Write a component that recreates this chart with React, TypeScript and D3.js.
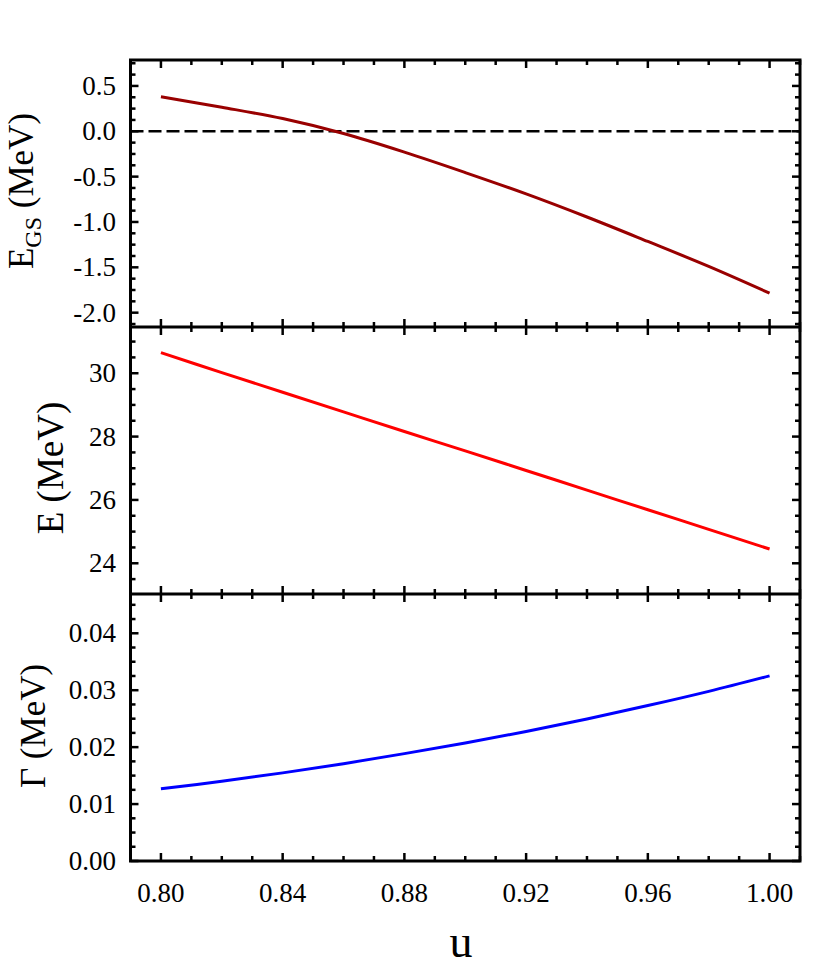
import * as d3 from 'd3';

// u grid shared by all three curves
const uValues = [0.80, 0.82, 0.84, 0.86, 0.88, 0.90, 0.92, 0.94, 0.96, 0.98, 1.00];
// ground-state energy E_GS (MeV)
const egsValues = [0.38, 0.265, 0.14, -0.025, -0.23, -0.455, -0.69, -0.945, -1.215, -1.49, -1.785];
// resonance energy E (MeV)
const eValues = [30.65, 30.02, 29.40, 28.78, 28.16, 27.55, 26.93, 26.31, 25.69, 25.07, 24.45];
// width Gamma (MeV)
const gammaValues = [0.01268, 0.0140, 0.01548, 0.0171, 0.01886, 0.02073, 0.02275, 0.02495, 0.0273, 0.0298, 0.03252];

const xTickLabels = ['0.80', '0.84', '0.88', '0.92', '0.96', '1.00'];
const egsTickLabels = ['0.5', '0.0', '-0.5', '-1.0', '-1.5', '-2.0'];
const eTickLabels = ['30', '28', '26', '24'];
const gammaTickLabels = ['0.04', '0.03', '0.02', '0.01', '0.00'];

const W = 830;
const H = 968;
const left = 130.5;
const right = 800;
const tops = [60, 327, 594];
const panelH = 267;
const font = '"Liberation Serif", "Times New Roman", serif';

const x = d3.scaleLinear().domain([0.79, 1.01]).range([left, right]);
const xMinor = d3.range(0.79, 1.0101, 0.01).map(v => +v.toFixed(2));

type Panel = {
  values: number[];
  domain: [number, number];
  labels: string[];
  minorStep: number;
  color: string;
};

const panels: Panel[] = [
  { values: egsValues, domain: [-2.158, 0.786], labels: egsTickLabels, minorStep: 0.125, color: '#990000' },
  { values: eValues, domain: [23.03, 31.46], labels: eTickLabels, minorStep: 0.5, color: '#ff0000' },
  { values: gammaValues, domain: [0, 0.0469], labels: gammaTickLabels, minorStep: 0.0025, color: '#0000ff' },
];

function PanelView({ p, top, last }: { p: Panel; top: number; last: boolean }) {
  const y = d3.scaleLinear().domain(p.domain).range([top + panelH, top]);
  const bottom = top + panelH;
  const minors: number[] = [];
  const start = Math.ceil(p.domain[0] / p.minorStep - 1e-6);
  const end = Math.floor(p.domain[1] / p.minorStep + 1e-6);
  for (let i = start; i <= end; i++) minors.push(i * p.minorStep);
  const line = d3.line<number>()
    .x((_, i) => x(uValues[i]))
    .y(d => y(d))
    .curve(d3.curveCatmullRom);
  return (
    <g>
      {minors.map((v, i) => {
        const major = p.labels.some(l => Math.abs(+l - v) < p.minorStep / 10);
        const len = major ? 8 : 5;
        return (
          <g key={i}>
            <line x1={left} x2={left + len} y1={y(v)} y2={y(v)} stroke="#000" strokeWidth={2.5} />
            <line x1={right} x2={right - len} y1={y(v)} y2={y(v)} stroke="#000" strokeWidth={2.5} />
          </g>
        );
      })}
      {xMinor.map((v, i) => {
        const major = xTickLabels.some(l => Math.abs(+l - v) < 0.001);
        const len = major ? 8 : 5;
        return (
          <g key={'x' + i}>
            <line x1={x(v)} x2={x(v)} y1={top} y2={top + len} stroke="#000" strokeWidth={2.5} />
            <line x1={x(v)} x2={x(v)} y1={bottom} y2={bottom - len} stroke="#000" strokeWidth={2.5} />
          </g>
        );
      })}
      {p.labels.map(l => (
        <text key={l} x={116} y={y(+l)} textAnchor="end" dominantBaseline="central"
          fontFamily={font} fontSize={27}>{l}</text>
      ))}
      {p === panels[0] && (
        <line x1={left} x2={right} y1={y(0)} y2={y(0)} stroke="#000" strokeWidth={2.5}
          strokeDasharray="13 5" />
      )}
      <path d={line(p.values) || ''} fill="none" stroke={p.color} strokeWidth={3} />
      {last && xTickLabels.map(l => (
        <text key={l} x={x(+l)} y={902} textAnchor="middle" fontFamily={font} fontSize={27}>{l}</text>
      ))}
    </g>
  );
}

export default function App() {
  return (
    <svg width={W} height={H} style={{ position: 'absolute', left: 0, top: 0, background: '#fff' }}>
      <rect x={0} y={0} width={W} height={H} fill="#fff" />
      {panels.map((p, i) => (
        <PanelView key={i} p={p} top={tops[i]} last={i === 2} />
      ))}
      <rect x={left} y={tops[0]} width={right - left} height={panelH * 3} fill="none"
        stroke="#000" strokeWidth={3} />
      <line x1={left} x2={right} y1={tops[1]} y2={tops[1]} stroke="#000" strokeWidth={3} />
      <line x1={left} x2={right} y1={tops[2]} y2={tops[2]} stroke="#000" strokeWidth={3} />
      <text transform="translate(33,191) rotate(-90)" textAnchor="middle" fontFamily={font} fontSize={35}>
        E<tspan fontSize={24} dy={8}>GS</tspan><tspan dy={-8}> (MeV)</tspan>
      </text>
      <text transform="translate(63,468) rotate(-90)" textAnchor="middle" fontFamily={font} fontSize={37}>
        E (MeV)
      </text>
      <text transform="translate(45,726) rotate(-90)" textAnchor="middle" fontFamily={font} fontSize={35}>
        Γ (MeV)
      </text>
      <text x={461} y={957} textAnchor="middle" fontFamily={font} fontSize={46}>u</text>
    </svg>
  );
}
